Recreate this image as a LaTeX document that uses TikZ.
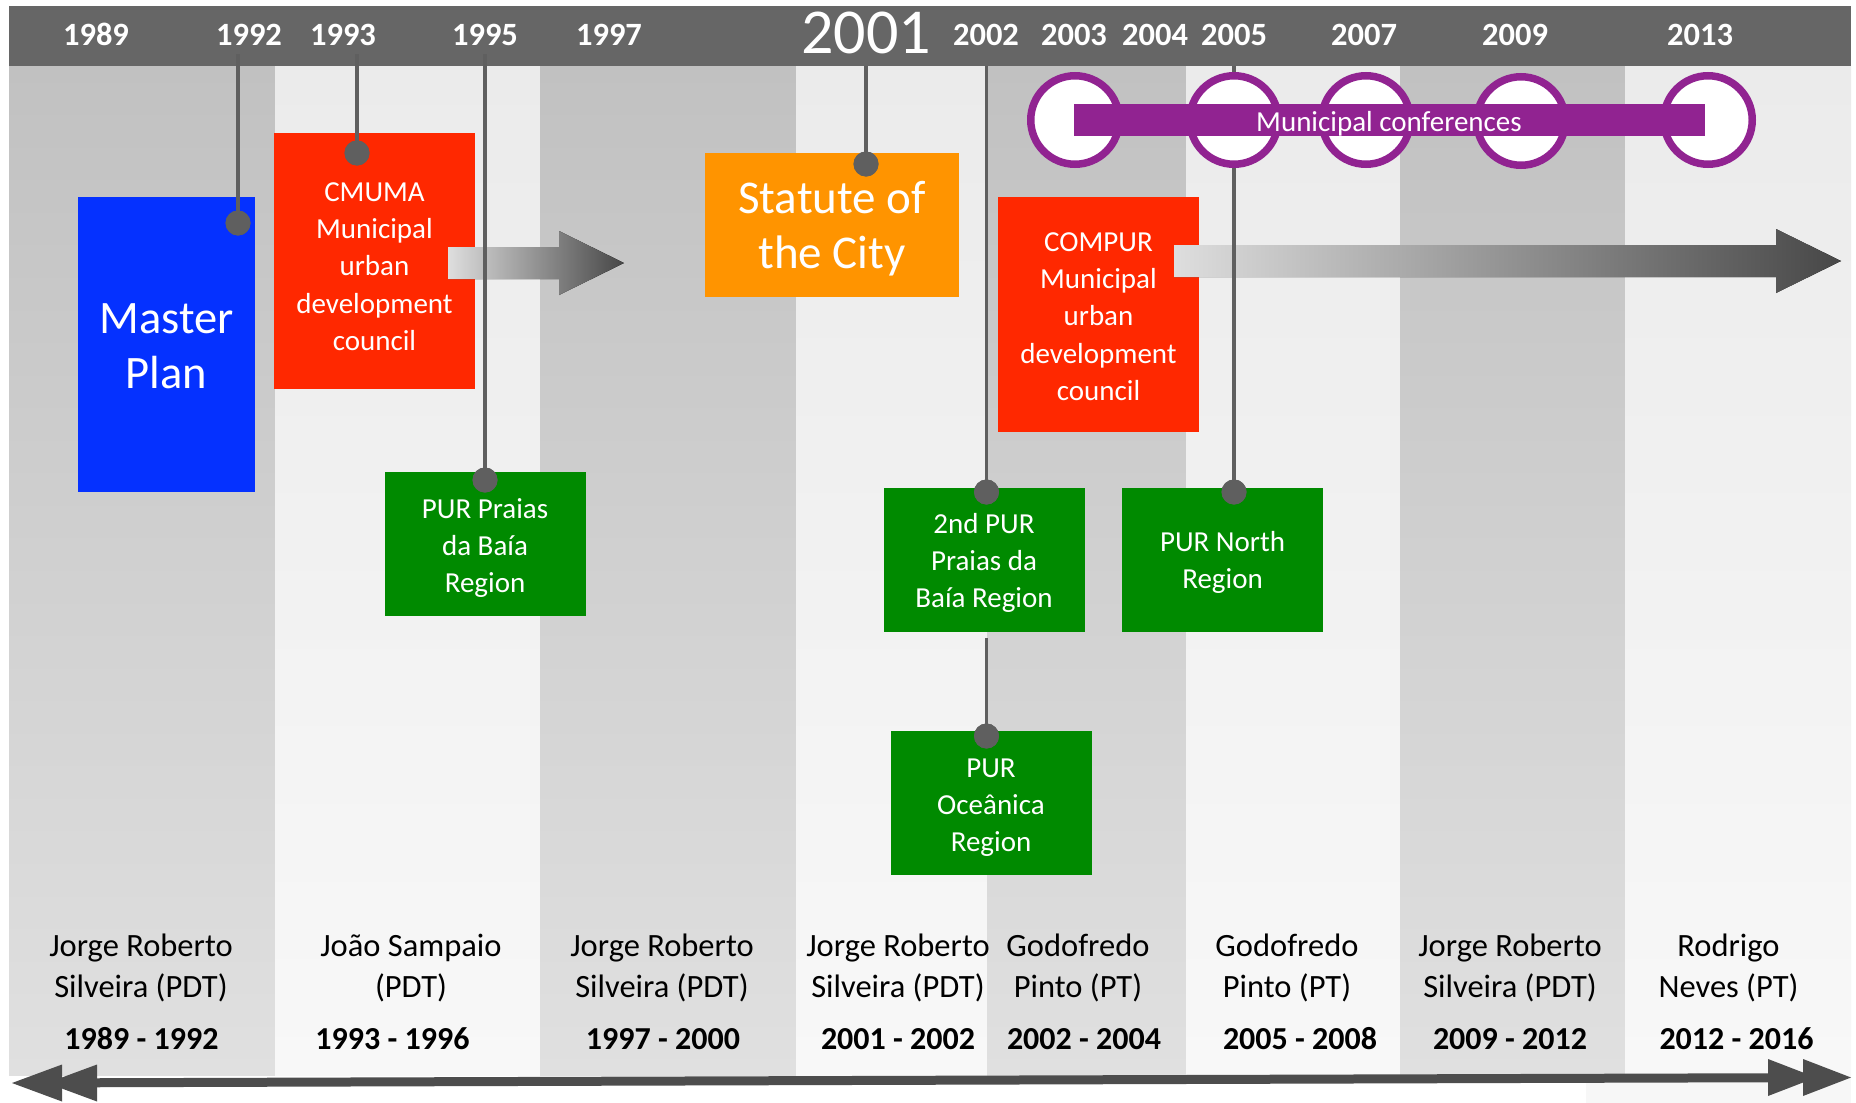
\documentclass[tikz,border=0pt]{standalone}
\usepackage{fontspec}
\setmainfont{Carlito}
\definecolor{barcol}{HTML}{666666}
\definecolor{stemcol}{HTML}{5F5F5F}
\definecolor{bandDtop}{HTML}{C1C1C1}
\definecolor{bandDbot}{HTML}{E0E0E0}
\definecolor{bandLtop}{HTML}{EBEBEB}
\definecolor{bandLbot}{HTML}{F8F8F8}
\definecolor{planblue}{HTML}{0531FF}
\definecolor{councilred}{HTML}{FF2800}
\definecolor{statorange}{HTML}{FF9400}
\definecolor{purgreen}{HTML}{008A00}
\definecolor{confpurple}{HTML}{912391}
\definecolor{axiscol}{HTML}{4D4D4D}
\definecolor{flowlight}{HTML}{DEDEDE}
\definecolor{flowdark}{HTML}{474747}
\newcommand{\lines}[1]{\begin{tabular}[t]{@{}c@{}}#1\end{tabular}}
\begin{document}
\begin{tikzpicture}[x=1pt,y=-1pt,
  bandD/.style={top color=bandDtop, bottom color=bandDbot},
  bandL/.style={top color=bandLtop, bottom color=bandLbot},
  boxn/.style={rectangle, inner sep=0pt, draw=none},
  boxtext/.style={inner sep=0pt, anchor=base, text=white},
  smalltext/.style={boxtext, font=\fontsize{29}{37.2}\selectfont},
  bigtext/.style={boxtext, font=\fontsize{46.5}{55}\selectfont},
  yearlabel/.style={inner sep=0pt, anchor=base, text=white, font=\fontsize{32.5}{38}\selectfont\bfseries},
  stem/.style={draw=stemcol, line width=3.5pt},
  pin/.style={circle, fill=stemcol, inner sep=0pt, minimum size=25pt},
  conf/.style={circle, draw=confpurple, fill=white, line width=7.5pt, inner sep=0pt, minimum size=88.5pt},
  mayor/.style={inner sep=0pt, anchor=base, text=black, font=\fontsize{32.5}{41}\selectfont},
  term/.style={inner sep=0pt, anchor=base, text=black, font=\fontsize{32}{38}\selectfont\bfseries},
  flow/.style={left color=flowlight, right color=flowdark}
]
\useasboundingbox (0,0) rectangle (1856,1103);
\fill[white] (0,0) rectangle (1856,1103);

% alternating term bands
\fill[bandD] (9,66) rectangle (275,1075);
\fill[bandL] (275,66) rectangle (540,1075);
\fill[bandD] (540,66) rectangle (796,1075);
\fill[bandL] (796,66) rectangle (987,1075);
\fill[bandD] (987,66) rectangle (1186,1075);
\fill[bandL] (1186,66) rectangle (1400,1075);
\fill[bandD] (1400,66) rectangle (1625,1075);
\fill[bandL] (1625,66) rectangle (1851,1075);
\fill[black!3] (1586,1075) rectangle (1851,1103);

% header bar with years
\fill[barcol] (9,6) rectangle (1851,66);
\node[yearlabel] (y1989) at (96,45) {1989};
\node[yearlabel] (y1992) at (249,45) {1992};
\node[yearlabel] (y1993) at (343,45) {1993};
\node[yearlabel] (y1995) at (485,45) {1995};
\node[yearlabel] (y1997) at (609,45) {1997};
\node[inner sep=0pt, anchor=base, text=white, font=\fontsize{64}{70}\selectfont] (y2001) at (866,53.3) {2001};
\node[yearlabel] (y2002) at (986,45) {2002};
\node[yearlabel] (y2003) at (1074,45) {2003};
\node[yearlabel] (y2004) at (1155,45) {2004};
\node[yearlabel] (y2005) at (1234,45) {2005};
\node[yearlabel] (y2007) at (1364,45) {2007};
\node[yearlabel] (y2009) at (1515,45) {2009};
\node[yearlabel] (y2013) at (1700,45) {2013};

% event boxes
\node[boxn, fill=planblue, minimum width=177pt, minimum height=295pt] (master) at (166.5,344.5) {};
\node[bigtext] (master-t) at (166.5,333) {\lines{Master\\Plan}};

\node[boxn, fill=councilred, minimum width=201pt, minimum height=256pt] (cmuma) at (374.5,261) {};
\node[smalltext] (cmuma-t) at (374.5,201.5) {\lines{CMUMA\\Municipal\\urban\\development\\council}};

\node[boxn, fill=statorange, minimum width=254pt, minimum height=144pt] (statute) at (832,225) {};
\node[bigtext, font=\fontsize{47}{55}\selectfont] (statute-t) at (832,213) {\lines{Statute of\\the City}};

\node[boxn, fill=councilred, minimum width=201pt, minimum height=235pt] (compur) at (1098.5,314.5) {};
\node[smalltext] (compur-t) at (1098.5,251.5) {\lines{COMPUR\\Municipal\\urban\\development\\council}};

\node[boxn, fill=purgreen, minimum width=201pt, minimum height=144pt] (praias) at (485.5,544) {};
\node[smalltext] (praias-t) at (485,518) {\lines{PUR Praias\\da Baía\\Region}};

\node[boxn, fill=purgreen, minimum width=201pt, minimum height=144pt] (pur2) at (984.5,560) {};
\node[smalltext] (pur2-t) at (984,533.5) {\lines{2nd PUR\\Praias da\\Baía Region}};

\node[boxn, fill=purgreen, minimum width=201pt, minimum height=144pt] (north) at (1222.5,560) {};
\node[smalltext] (north-t) at (1222.5,551.5) {\lines{PUR North\\Region}};

\node[boxn, fill=purgreen, minimum width=201pt, minimum height=144pt] (oceanica) at (991.5,803) {};
\node[smalltext] (oceanica-t) at (991,777) {\lines{PUR\\Oceânica\\Region}};

% continuation arrows of the councils
\fill[flow] (448,247) -- (559,247) -- (559,231) -- (624,263) -- (559,295) -- (559,279) -- (448,279) -- cycle;
\fill[flow] (1174,245) -- (1776,245) -- (1776,229) -- (1841,261) -- (1776,293) -- (1776,277) -- (1174,277) -- cycle;

% year stems with pins
\coordinate (s1992) at (238,54);
\coordinate (s1993) at (357,54);
\coordinate (s1995) at (485,54);
\coordinate (s2001) at (866,66);
\coordinate (s2002) at (986.5,66);
\coordinate (s2002b) at (986.5,638);
\coordinate (s2005) at (1234,66);
\node[pin] (p1992) at (238,223) {};
\node[pin] (p1993) at (357,153) {};
\node[pin] (p1995) at (485,480) {};
\node[pin] (p2001) at (866,164) {};
\node[pin] (p2002) at (986.5,492) {};
\node[pin] (p2002b) at (986.5,736) {};
\node[pin] (p2005) at (1234,492) {};
\draw[stem] (s1992) -- (p1992.center);
\draw[stem] (s1993) -- (p1993.center);
\draw[stem] (s1995) -- (p1995.center);
\draw[stem] (s2001) -- (p2001.center);
\draw[stem] (s2002) -- (p2002.center);
\draw[stem] (s2002b) -- (p2002b.center);
\draw[stem] (s2005) -- (p2005.center);
\node[pin] at (p1992) {};
\node[pin] at (p1993) {};
\node[pin] at (p1995) {};
\node[pin] at (p2001) {};
\node[pin] at (p2002) {};
\node[pin] at (p2002b) {};
\node[pin] at (p2005) {};

% municipal conferences
\node[conf] (c2003) at (1075,120) {};
\node[conf] (c2005) at (1234,120) {};
\node[conf] (c2007) at (1366,120) {};
\node[conf] (c2009) at (1521,121) {};
\node[conf] (c2013) at (1708,120) {};
\fill[confpurple] (1074,104) rectangle (1705,136);
\node[inner sep=0pt, anchor=base, text=white, font=\fontsize{29}{34}\selectfont] (conf-t) at (1389,131) {Municipal conferences};

% mayors and terms
\node[mayor] (m1) at (141,956) {\lines{Jorge Roberto\\Silveira (PDT)}};
\node[mayor] (m2) at (411,956) {\lines{João Sampaio\\(PDT)}};
\node[mayor] (m3) at (662,956) {\lines{Jorge Roberto\\Silveira (PDT)}};
\node[mayor] (m4) at (898,956) {\lines{Jorge Roberto\\Silveira (PDT)}};
\node[mayor] (m5) at (1078,956) {\lines{Godofredo\\Pinto (PT)}};
\node[mayor] (m6) at (1287,956) {\lines{Godofredo\\Pinto (PT)}};
\node[mayor] (m7) at (1510,956) {\lines{Jorge Roberto\\Silveira (PDT)}};
\node[mayor] (m8) at (1728.5,956) {\lines{Rodrigo\\Neves (PT)}};
\node[term] (t1) at (141.5,1049.5) {1989 - 1992};
\node[term] (t2) at (392.5,1049.5) {1993 - 1996};
\node[term] (t3) at (663,1049.5) {1997 - 2000};
\node[term] (t4) at (898,1049.5) {2001 - 2002};
\node[term] (t5) at (1084,1049.5) {2002 - 2004};
\node[term] (t6) at (1300,1049.5) {2005 - 2008};
\node[term] (t7) at (1510,1049.5) {2009 - 2012};
\node[term] (t8) at (1736.5,1049.5) {2012 - 2016};

% time axis with double heads
\coordinate (axL) at (12,1083);
\coordinate (axR) at (1851,1077.5);
\draw[axiscol, line width=9pt, shorten <=40pt, shorten >=40pt] (axL) -- (axR);
\fill[axiscol] (12,1083) -- (62,1064.5) -- (62,1101.5) -- cycle;
\fill[axiscol] (47,1083) -- (97,1064.5) -- (97,1101.5) -- cycle;
\fill[axiscol] (1851,1077.5) -- (1803,1059) -- (1803,1096) -- cycle;
\fill[axiscol] (1816,1077.5) -- (1768,1059) -- (1768,1096) -- cycle;
\end{tikzpicture}
\end{document}
